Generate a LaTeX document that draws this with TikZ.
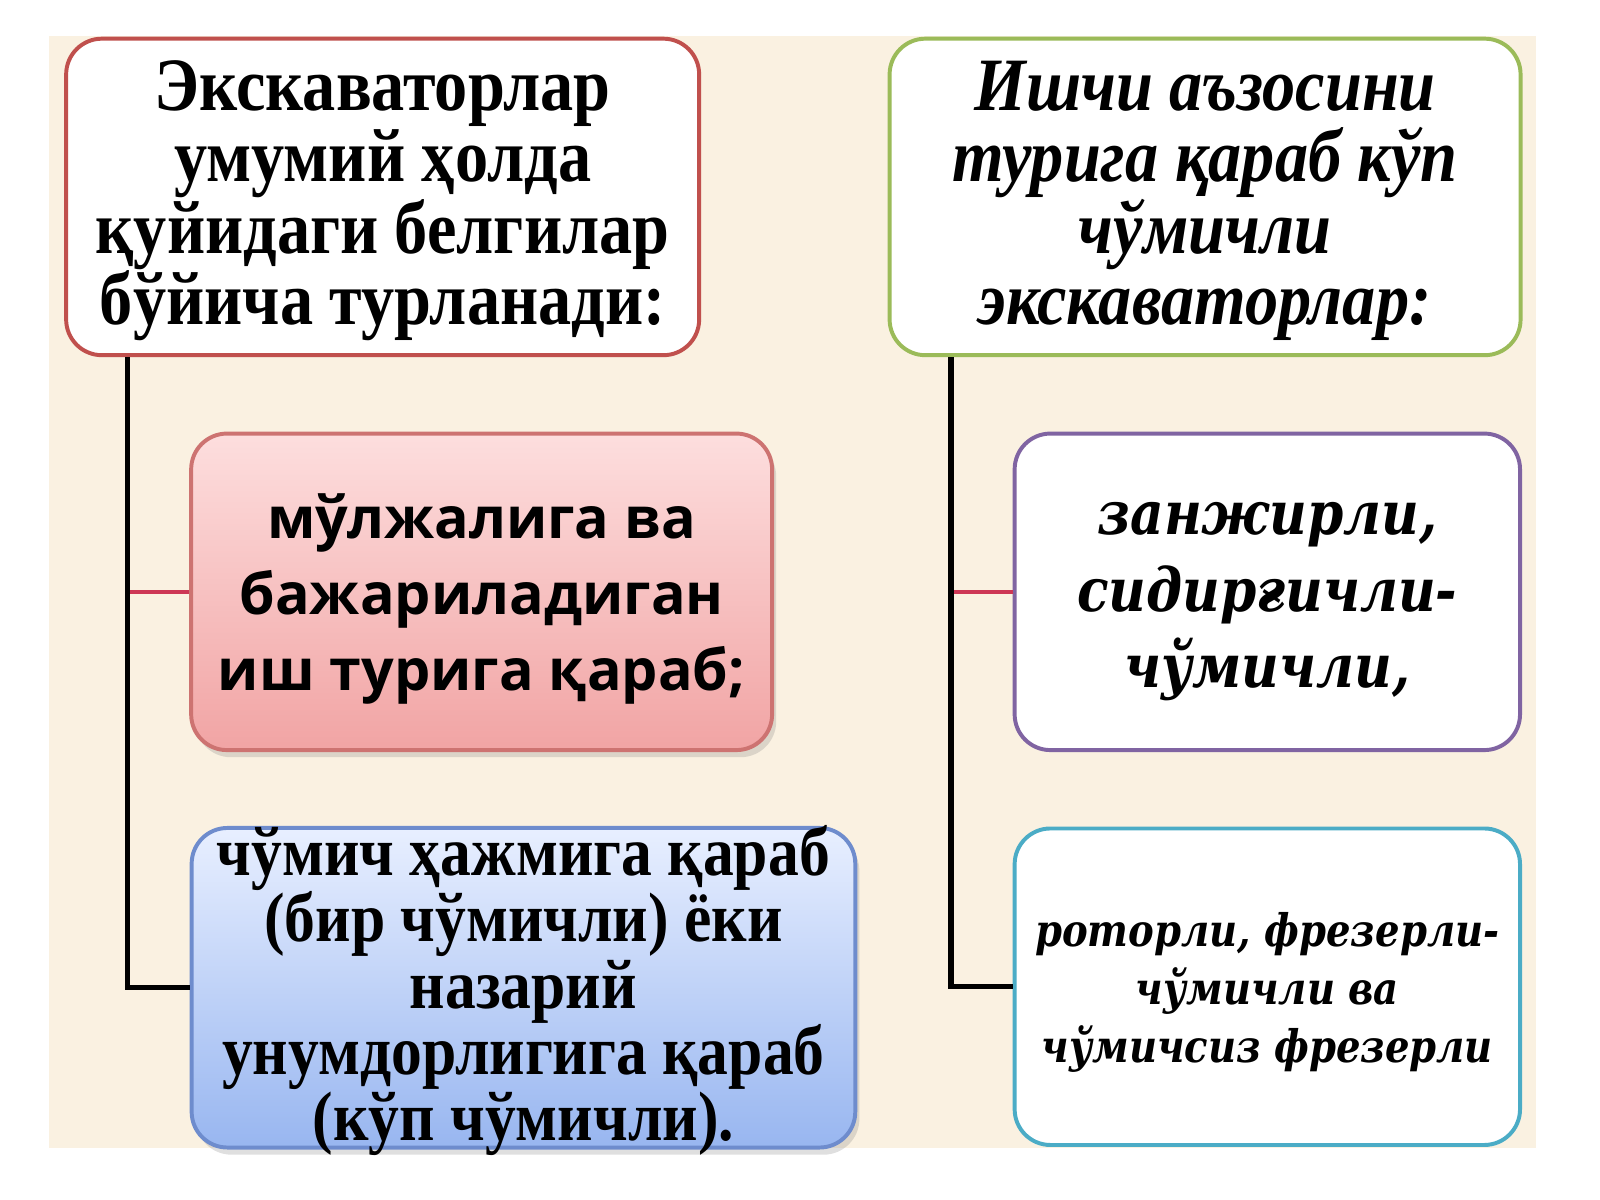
\documentclass[tikz,border=0pt]{standalone}
\usepackage{fontspec}
\setmainfont{Liberation Serif}[FakeStretch=0.88]
\newfontfamily\sansfont{Open Sans}
\newfontfamily\slantfont{DejaVu Serif}[FakeStretch=0.86]
\usetikzlibrary{shadows}

\definecolor{slidebg}{RGB}{250,241,225}
\definecolor{redrim}{RGB}{192,80,77}
\definecolor{greenrim}{RGB}{155,187,89}
\definecolor{violetrim}{RGB}{128,100,162}
\definecolor{tealrim}{RGB}{75,172,198}
\definecolor{pinktop}{RGB}{253,222,222}
\definecolor{pinkbot}{RGB}{241,164,164}
\definecolor{bluetop}{RGB}{232,239,255}
\definecolor{bluebot}{RGB}{152,182,240}
\definecolor{bluerim}{RGB}{110,140,205}
\definecolor{twigred}{RGB}{205,55,85}

\begin{document}
\begin{tikzpicture}[x=0.01cm, y=-0.01cm,
    box/.style={draw, line width=1.1pt, rounded corners=0.35cm, fill=white,
        align=center, inner sep=0pt, text depth=0pt},
    shade box/.style={box, drop shadow={opacity=0.25, shadow xshift=0.04cm, shadow yshift=-0.07cm}},
    trunk/.style={line width=1.5pt, black},
    twig/.style={line width=1.1pt, twigred}
]
    % the frame
    \useasboundingbox (0,0) rectangle (1568,1176);
    \fill[slidebg] (48,35) rectangle (1505,1125);

    % the body
    \node[box, draw=redrim, minimum width=6.2cm, minimum height=3.1cm, text height=71.1pt,
        font=\bfseries\fontsize{21}{19.9}\selectfont] (kinds) at (375,193)
        {Экскаваторлар\\умумий ҳолда\\қуйидаги белгилар\\бўйича турланади:};
    \node[box, draw=greenrim, minimum width=6.18cm, minimum height=3.1cm, text height=71.1pt,
        font=\bfseries\itshape\fontsize{21}{19.9}\selectfont] (multi) at (1181,193)
        {Ишчи аъзосини\\турига қараб кўп\\чўмичли\\экскаваторлар:};
    \node[shade box, draw=redrim!80, top color=pinktop, bottom color=pinkbot,
        minimum width=5.69cm, minimum height=3.1cm, text height=55.2pt,
        font=\sansfont\bfseries\fontsize{16}{21.3}\selectfont] (purpose) at (472,580)
        {мўлжалига ва\\бажариладиган\\иш турига қараб;};
    \node[shade box, draw=bluerim, top color=bluetop, bottom color=bluebot,
        minimum width=6.5cm, minimum height=3.13cm, text height=85.3pt,
        font=\bfseries\fontsize{19.5}{18.5}\selectfont] (volume) at (513,968)
        {чўмич ҳажмига қараб\\(бир чўмичли) ёки\\назарий\\унумдорлигига қараб\\(кўп чўмичли).};
    \node[box, draw=violetrim, minimum width=4.95cm, minimum height=3.1cm, text height=53.5pt,
        font=\slantfont\bfseries\itshape\fontsize{16.8}{21.3}\selectfont] (chain) at (1242,580)
        {занжирли,\\сидирғичли-\\чўмичли,};
    \node[box, draw=tealrim, minimum width=4.95cm, minimum height=3.1cm, text height=42.3pt,
        font=\slantfont\bfseries\itshape\fontsize{12.5}{16.2}\selectfont] (rotor) at (1242,967)
        {роторли, фрезерли-\\чўмичли ва\\чўмичсиз фрезерли};

    % arrows
    \coordinate (L) at ([xshift=0.62cm]kinds.south west);
    \coordinate (R) at ([xshift=0.62cm]multi.south west);

    \draw[twig] (purpose.west) -- (purpose.west -| L);
    \draw[twig] (chain.west) -- (chain.west -| R);
    \draw[trunk] (L) |- (volume.west);
    \draw[trunk] (R) |- (rotor.west);

\end{tikzpicture}
\end{document}
